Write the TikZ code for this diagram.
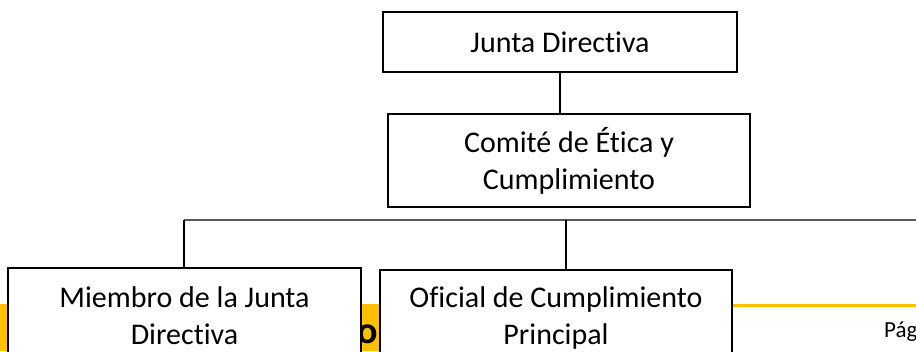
\documentclass[tikz,border=0pt]{standalone}
\usepackage{fontspec}
\setmainfont{Carlito}[Ligatures={NoCommon,NoContextual}]
\definecolor{gold}{HTML}{FFC000}
\definecolor{busgray}{HTML}{595959}
\tikzset{
  orgbox/.style={draw=black, line width=1.6pt, fill=white, align=center, inner sep=0pt,
    font=\fontsize{30}{37}\selectfont},
  link/.style={draw=black, line width=1.4pt},
  bus/.style={draw=busgray, line width=1.8pt}
}
\begin{document}
\begin{tikzpicture}[x=1pt,y=-1pt]
\useasboundingbox (0,0) rectangle (916,351);
\clip (0,0) rectangle (916,351);
% gold footer band
\fill[gold] (0,304) rectangle (400,351);
\draw[gold, line width=2.5pt] (400,305.5) -- (916,305.5);
\node[anchor=base east, inner sep=0pt, font=\fontsize{38}{40}\selectfont\bfseries] (frag) at (378,343) {o};
\node[anchor=base west, inner sep=0pt, font=\fontsize{23}{26}\selectfont] (pag) at (884,337) {Pág};
% boxes
\node[orgbox, minimum width=354pt, minimum height=60pt] (junta) at (560,42) {Junta Directiva};
\node[orgbox, minimum width=362pt, minimum height=93pt] (comite) at (569,160.5) {Comité de Ética y\\Cumplimiento};
\node[orgbox, minimum width=353pt, minimum height=96pt] (miembro) at (184.5,316) {Miembro de la Junta\\Directiva};
\node[orgbox, minimum width=352pt, minimum height=96pt] (oficial) at (556,318) {Oficial de Cumplimiento\\Principal};
% connectors
\draw[link] (junta.south) -- (junta.south |- comite.north);
\coordinate (busL) at (184,220);
\coordinate (busM) at (566,220);
\coordinate (busR) at (916,220);
\draw[bus] (busL) -- (busR);
\draw[link] (busL) -- (busL |- miembro.north);
\draw[link] (busM) -- (busM |- oficial.north);
\end{tikzpicture}
\end{document}
